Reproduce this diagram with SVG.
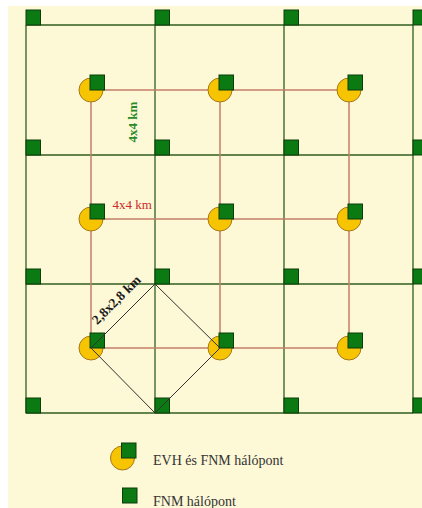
<svg xmlns="http://www.w3.org/2000/svg" width="422" height="508" viewBox="0 0 422 508">
<style>
.grid{stroke:#2f5f1f;stroke-width:1.3;fill:none}
.red{stroke:#c27f68;stroke-width:1.5;fill:none}
.dia{stroke:#333;stroke-width:1;fill:none}
.sq{fill:#0b7a12;stroke:#0c3d0c;stroke-width:1}
.circ{fill:#f6c400;stroke:#a8781c;stroke-width:1}
.lbl{font-family:"Liberation Serif",serif}
</style>
<defs>
<rect id="s" x="0" y="-15" width="14.5" height="15" class="sq"/>
<g id="n"><circle cx="0" cy="0" r="12" class="circ"/><use href="#s" x="-1" y="0"/></g>
</defs>
<rect x="0" y="0" width="422" height="508" fill="#ffffff"/>
<rect x="8" y="6" width="414" height="502" fill="#fdf8d6"/>
<g id="connectors">
<g id="grid">
<line class="grid" x1="26" y1="25" x2="413" y2="25"/>
<line class="grid" x1="26" y1="155" x2="413" y2="155"/>
<line class="grid" x1="26" y1="284" x2="413" y2="284"/>
<line class="grid" x1="26" y1="413" x2="413" y2="413"/>
<line class="grid" x1="26" y1="25" x2="26" y2="413"/>
<line class="grid" x1="155" y1="25" x2="155" y2="413"/>
<line class="grid" x1="284" y1="25" x2="284" y2="413"/>
<line class="grid" x1="413" y1="25" x2="413" y2="413"/>
</g>
<g id="redlines">
<line class="red" x1="91" y1="90" x2="349" y2="90"/>
<line class="red" x1="91" y1="219" x2="349" y2="219"/>
<line class="red" x1="91" y1="348" x2="349" y2="348"/>
<line class="red" x1="91" y1="90" x2="91" y2="348"/>
<line class="red" x1="220" y1="90" x2="220" y2="348"/>
<line class="red" x1="349" y1="90" x2="349" y2="348"/>
</g>
</g>
<g id="fnm-nodes">
<use id="g00" href="#s" x="26" y="25"/><use id="g10" href="#s" x="155" y="25"/><use id="g20" href="#s" x="284" y="25"/><use id="g30" href="#s" x="413" y="25"/>
<use id="g01" href="#s" x="26" y="155"/><use id="g11" href="#s" x="155" y="155"/><use id="g21" href="#s" x="284" y="155"/><use id="g31" href="#s" x="413" y="155"/>
<use id="g02" href="#s" x="26" y="284"/><use id="g12" href="#s" x="155" y="284"/><use id="g22" href="#s" x="284" y="284"/><use id="g32" href="#s" x="413" y="284"/>
<use id="g03" href="#s" x="26" y="413"/><use id="g13" href="#s" x="155" y="413"/><use id="g23" href="#s" x="284" y="413"/><use id="g33" href="#s" x="413" y="413"/>
</g>
<g id="evh-nodes">
<use id="n00" href="#n" x="91" y="90"/><use id="n10" href="#n" x="220" y="90"/><use id="n20" href="#n" x="349" y="90"/>
<use id="n01" href="#n" x="91" y="219"/><use id="n11" href="#n" x="220" y="219"/><use id="n21" href="#n" x="349" y="219"/>
<use id="n02" href="#n" x="91" y="348"/><use id="n12" href="#n" x="220" y="348"/><use id="n22" href="#n" x="349" y="348"/>
</g>
<g id="diamond">
<polygon class="dia" points="155,284 220,348 155,413 91,348"/>
</g>
<g id="labels">
<text class="lbl" transform="translate(137,122) rotate(-90)" text-anchor="middle" font-size="13" font-weight="bold" fill="#2a8a2a">4x4 km</text>
<text class="lbl" x="112.5" y="209" font-size="13" fill="#cc2a2a">4x4 km</text>
<text class="lbl" transform="translate(119.5,303) rotate(-45)" text-anchor="middle" font-size="13.5" font-weight="bold" fill="#1a1a1a">2,8x2,8 km</text>
</g>
<g id="legend">
<g id="legend-evh"><use href="#n" x="122.5" y="458"/><text class="lbl" x="153" y="465" font-size="14" fill="#333">EVH és FNM hálópont</text></g>
<g id="legend-fnm"><use href="#s" x="122.5" y="503"/><text class="lbl" x="153" y="506" font-size="14" fill="#333">FNM hálópont</text></g>
</g>
</svg>
